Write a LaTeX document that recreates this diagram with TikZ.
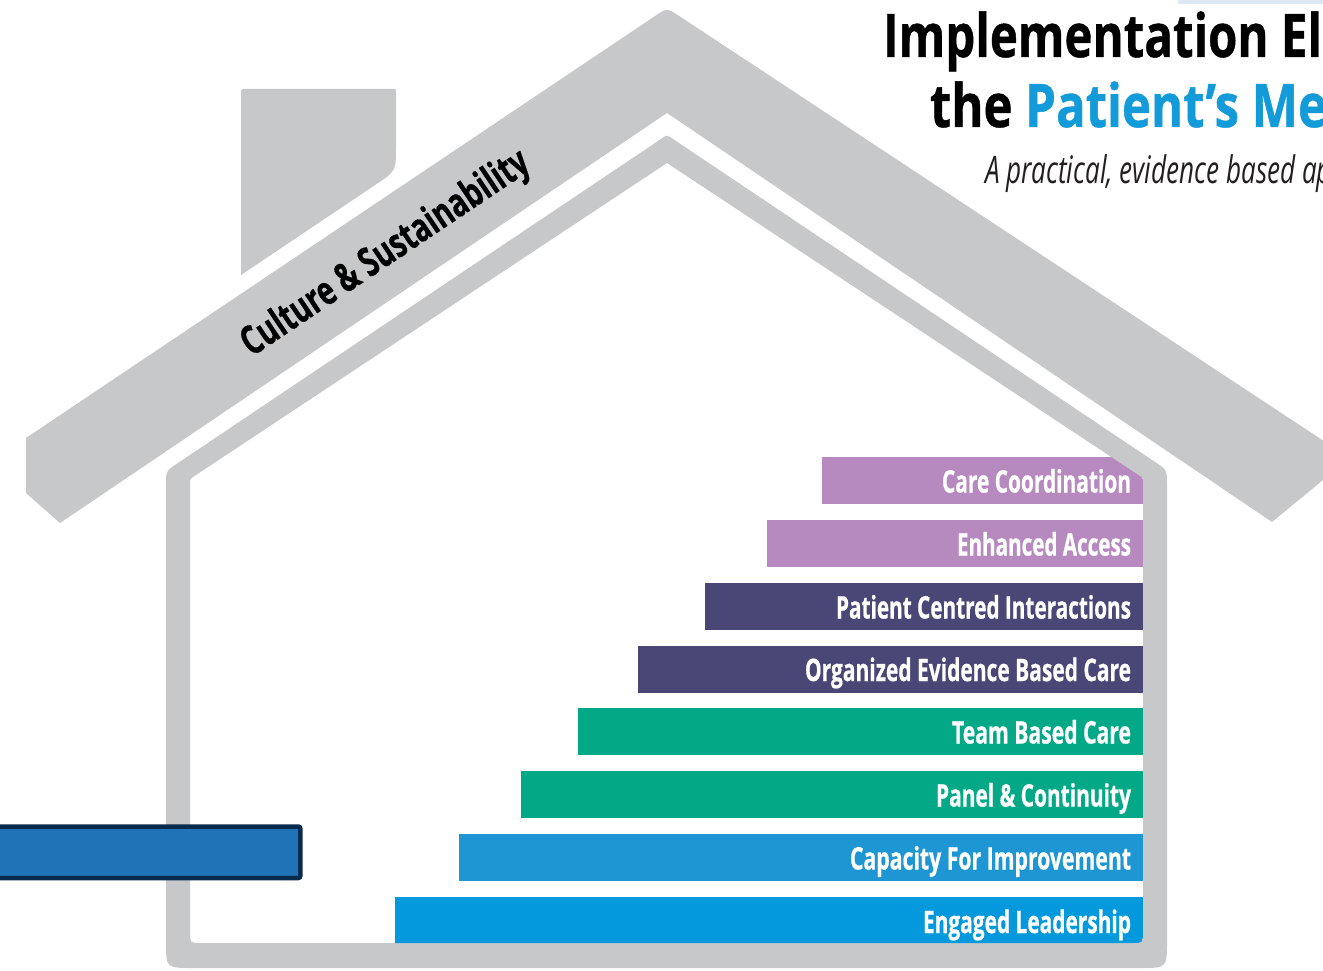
\documentclass[tikz,border=0pt]{standalone}
\usepackage{fontspec}
\usepackage{graphicx}
\usetikzlibrary{calc}
\newfontfamily\osans{Open Sans}
\newfontfamily\osheavy{Open Sans}[BoldFeatures={FakeBold=0.8}]
\definecolor{wallgray}{HTML}{C7C8CA}
\definecolor{cLilac}{HTML}{B78ABF}
\definecolor{cIndigo}{HTML}{4A4675}
\definecolor{cGreen}{HTML}{03A986}
\definecolor{cBlueA}{HTML}{1F96D4}
\definecolor{cBlueB}{HTML}{0399DC}
\definecolor{cTitleBlue}{HTML}{129AD9}
\definecolor{cNavy}{HTML}{072A4D}
\definecolor{cRectBlue}{HTML}{1F74B8}
\definecolor{cPale}{HTML}{DDE8F4}
\definecolor{cSub}{HTML}{231F20}
\tikzset{
  barbox/.style={anchor=north west, minimum height=47pt, inner sep=0pt, outer sep=0pt, draw=none},
  bartext/.style={anchor=base east, inner sep=0pt, outer sep=0pt, text=white,
    font=\osheavy\bfseries\fontsize{31}{33}\selectfont},
  rooftext/.style={anchor=base, inner sep=0pt, text=black, rotate=33.85,
    font=\osheavy\bfseries\fontsize{40}{42}\selectfont},
  titletext/.style={anchor=base west, inner sep=0pt, outer sep=0pt,
    font=\osheavy\bfseries\fontsize{60}{62}\selectfont},
  subtext/.style={anchor=base west, inner sep=0pt, outer sep=0pt, text=cSub,
    font=\osans\itshape\fontsize{38}{40}\selectfont},
}
\begin{document}
\begin{tikzpicture}[x=1pt,y=-1pt]
\path[use as bounding box] (0,0) rectangle (1323,971);
\clip (0,0) rectangle (1323,971);
\fill[white] (0,0) rectangle (1323,971);
% pale strip top right
\fill[cPale] (1178,0) rectangle (1323,4);
% roof band
\fill[wallgray] (26,493) -- (26,438)
  -- ($(667,8)!14pt!(26,438)$) .. controls (667,8) .. ($(667,8)!14pt!(1345,455)$)
  -- (1345,455) -- (1345,462) -- (1272,522) -- (667,113) -- (60,523) -- cycle;
% chimney
\fill[wallgray] (241,275) -- (241,94) .. controls (241,89) .. (246,89) -- (392,89)
  .. controls (396,89) .. (396,93) -- (396,147)
  .. controls (396,171) .. ($(396,171)!24pt!(241,275)$) -- cycle;
% house walls
\fill[wallgray, even odd rule]
  (166,720) -- ($(166,471)!14pt!(166,720)$) .. controls (166,471) .. ($(166,471)!14pt!(667,135)$)
  -- ($(667,135)!5pt!(166,471)$) .. controls (667,135) .. ($(667,135)!5pt!(1167,470)$)
  -- ($(1167,470)!14pt!(667,135)$) .. controls (1167,470) .. ($(1167,470)!14pt!(1167,968)$)
  -- (1167,941) .. controls (1167,968) .. (1140,968) -- (193,968) .. controls (166,968) .. (166,941) -- cycle
  (190,720) -- ($(190,479)!4pt!(190,720)$) .. controls (190,479) .. ($(190,479)!4pt!(667,163)$)
  -- (667,163) -- ($(1143,478)!4pt!(667,163)$) .. controls (1143,478) .. ($(1143,478)!4pt!(1143,943)$)
  -- (1143,932) .. controls (1143,943) .. (1132,943) -- (201,943) .. controls (190,943) .. (190,932) -- cycle;
% bars
\begin{scope}
\clip (190,720) -- ($(190,479)!4pt!(190,720)$) .. controls (190,479) .. ($(190,479)!4pt!(667,163)$)
  -- (667,163) -- ($(1143,478)!4pt!(667,163)$) .. controls (1143,478) .. ($(1143,478)!4pt!(1143,943)$)
  -- (1143,932) .. controls (1143,943) .. (1132,943) -- (201,943) .. controls (190,943) .. (190,932) -- cycle;
\node[barbox, fill=cLilac,  minimum width=321pt] (b1) at (822,457) {};
\node[barbox, fill=cLilac,  minimum width=376pt] (b2) at (767,520) {};
\node[barbox, fill=cIndigo, minimum width=438pt] (b3) at (705,583) {};
\node[barbox, fill=cIndigo, minimum width=505pt] (b4) at (638,645.5) {};
\node[barbox, fill=cGreen,  minimum width=565pt] (b5) at (578,708) {};
\node[barbox, fill=cGreen,  minimum width=622pt] (b6) at (521,771) {};
\node[barbox, fill=cBlueA,  minimum width=684pt] (b7) at (459,834) {};
\node[barbox, fill=cBlueB,  minimum width=748pt] (b8) at (395,897) {};
\end{scope}
\node[bartext] (t1) at ($(b1.south east)+(-12,-11.5)$) {\resizebox{189pt}{\height}{Care Coordination}};
\node[bartext] (t2) at ($(b2.south east)+(-12,-11.5)$) {\resizebox{174pt}{\height}{Enhanced Access}};
\node[bartext] (t3) at ($(b3.south east)+(-12,-11.5)$) {\resizebox{295pt}{\height}{Patient Centred Interactions}};
\node[bartext] (t4) at ($(b4.south east)+(-12,-11.5)$) {\resizebox{326pt}{\height}{Organized Evidence Based Care}};
\node[bartext] (t5) at ($(b5.south east)+(-12,-11.5)$) {\resizebox{179pt}{\height}{Team Based Care}};
\node[bartext] (t6) at ($(b6.south east)+(-12,-11.5)$) {\resizebox{195pt}{\height}{Panel \& Continuity}};
\node[bartext] (t7) at ($(b7.south east)+(-12,-11.5)$) {\resizebox{281pt}{\height}{Capacity For Improvement}};
\node[bartext] (t8) at ($(b8.south east)+(-12,-11)$) {\resizebox{208pt}{\height}{Engaged Leadership}};
% roof label
\node[rooftext] (roof) at (392,263) {\resizebox{338pt}{\height}{Culture \& Sustainability}};
% title
\node[titletext] (title1) at (883,57) {\resizebox{439pt}{\height}{Implementation El}};
\node[titletext] (title2) at (930,127) {\resizebox{397pt}{\height}{the \textcolor{cTitleBlue}{Patient’s Me}}};
\node[subtext] (title3) at (985,183) {\resizebox{347pt}{\height}{A practical, evidence based ap}};
% blue box at left
\node[draw=cNavy, line width=4.5pt, fill=cRectBlue, rounded corners=2pt, anchor=north west,
  minimum width=314pt, minimum height=51.5pt, inner sep=0pt] (leftbox) at (-16,824.25) {};
\end{tikzpicture}
\end{document}
